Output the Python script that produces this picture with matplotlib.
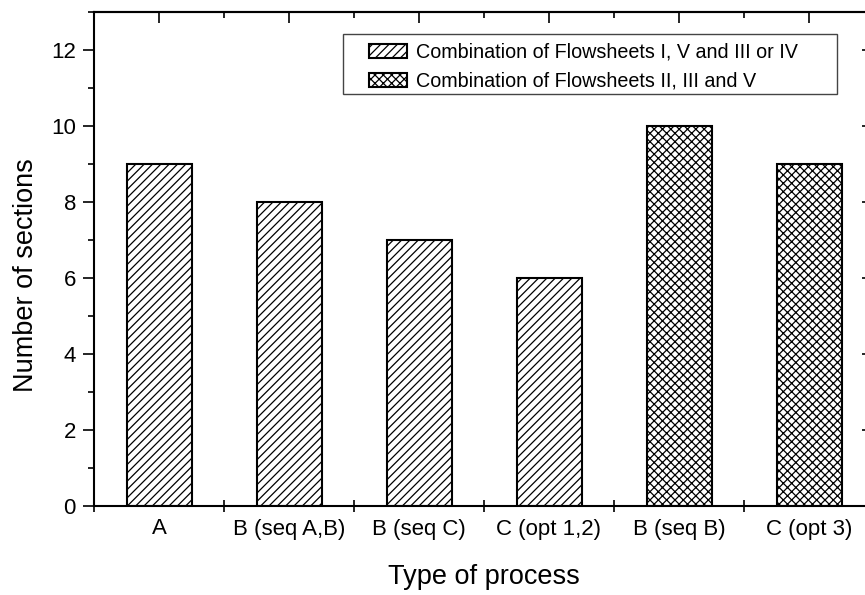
import numpy as np
import matplotlib.pyplot as plt
from matplotlib.patches import Rectangle
from matplotlib.ticker import MultipleLocator, FixedLocator

plt.rcParams['font.family'] = ['Liberation Sans', 'DejaVu Sans']
plt.rcParams['hatch.linewidth'] = 0.9

categories = ["A", "B (seq A,B)", "B (seq C)", "C (opt 1,2)", "B (seq B)", "C (opt 3)"]
sections = [9, 8, 7, 6, 10, 9]
groups = [0, 0, 0, 0, 1, 1]
group_names = ["Combination of Flowsheets I, V and III or IV",
               "Combination of Flowsheets II, III and V"]
hatches = ["////", "xxxx"]

fig = plt.figure(figsize=(8.65, 5.95), dpi=100)
ax = fig.add_axes([94 / 865, 89 / 595, 780 / 865, 494 / 595])

x = np.arange(len(categories))
for g in range(len(group_names)):
    idx = [i for i in range(len(categories)) if groups[i] == g]
    ax.bar(x[idx], [sections[i] for i in idx], width=0.5, color="white",
           edgecolor="black", linewidth=1.5, hatch=hatches[g], label=group_names[g])

ax.set_xlim(-0.5, len(categories) - 0.5)
ax.set_ylim(0, 13)

for s in ax.spines.values():
    s.set_linewidth(1.5)

# bottom: labels at centres, ticks at boundaries
ax.set_xticks(x)
ax.set_xticklabels(categories)
ax.xaxis.set_minor_locator(FixedLocator(np.arange(-0.5, len(categories), 1.0)))
ax.tick_params(axis="x", which="major", length=0, pad=9, labelsize=16, top=False)
ax.tick_params(axis="x", which="minor", direction="inout", length=9, width=1.2, top=False)

# left
ax.yaxis.set_major_locator(MultipleLocator(2))
ax.yaxis.set_minor_locator(MultipleLocator(1))
ax.tick_params(axis="y", which="major", direction="out", length=8, width=1.2, pad=5,
               labelsize=16, right=False)
ax.tick_params(axis="y", which="minor", direction="out", length=4.5, width=1.2, right=False)

# top
top = ax.secondary_xaxis("top")
top.set_xticks(x)
top.set_xticklabels([])
top.xaxis.set_minor_locator(FixedLocator(np.arange(-0.5, len(categories), 1.0)))
top.tick_params(which="major", direction="in", length=8, width=1.2)
top.tick_params(which="minor", direction="in", length=4, width=1.2)
top.spines["top"].set_linewidth(1.5)

# right
right = ax.secondary_yaxis("right")
right.yaxis.set_major_locator(MultipleLocator(2))
right.set_yticklabels([])
right.tick_params(which="major", direction="in", length=8.5, width=1.2)
right.tick_params(which="minor", length=0)
right.spines["right"].set_linewidth(1.5)

ax.set_xlabel("Type of process", fontsize=19.5, labelpad=18)
ax.set_ylabel("Number of sections", fontsize=19.5)
ax.yaxis.set_label_coords(-0.07, 0.468)

# legend without its own frame, box drawn separately (extra padding like the original)
leg = ax.legend(loc="upper left", bbox_to_anchor=(369 / 865, 1 - 43 / 595),
                bbox_transform=fig.transFigure, borderaxespad=0, borderpad=0,
                fontsize=14.2, frameon=False, handlelength=1.95, handleheight=0.65,
                handletextpad=0.45, labelspacing=0.5)
fig.add_artist(Rectangle((343 / 865, 1 - 94 / 595), 494 / 865, 60 / 595,
                         transform=fig.transFigure, fill=False,
                         edgecolor="#444444", linewidth=1.0))

fig.savefig("out.png", dpi=100)
